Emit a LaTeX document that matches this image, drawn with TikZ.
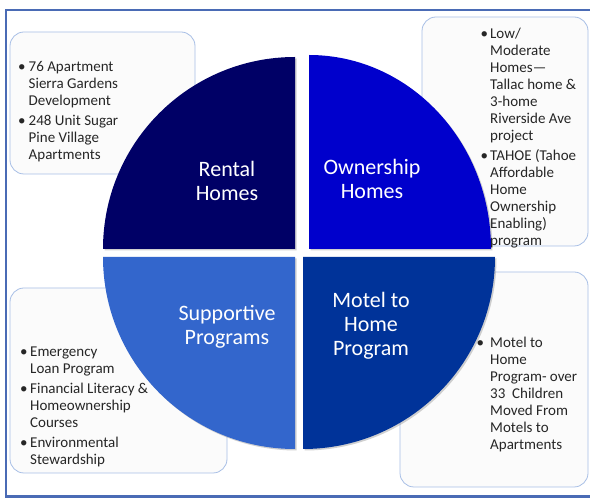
\documentclass[tikz,border=0pt]{standalone}
\usepackage{fontspec}
\setmainfont{Carlito}
\usetikzlibrary{shadows}
\definecolor{frameblue}{HTML}{4A6BB5}
\definecolor{boxedge}{HTML}{A8BFE6}
\definecolor{boxfill}{HTML}{FBFBFB}
\definecolor{rentalc}{HTML}{000066}
\definecolor{ownc}{HTML}{0000CC}
\definecolor{suppc}{HTML}{3366CC}
\definecolor{motelc}{HTML}{003399}
\definecolor{txt}{HTML}{262626}
\newcommand{\bulw}[1]{\makebox[#1][l]{•}}
\tikzset{
  infobox/.style={draw=boxedge, line width=0.8pt, fill=boxfill, rounded corners=14pt},
  quad/.style={draw=none, drop shadow={shadow xshift=1.5pt, shadow yshift=-1.5pt, opacity=0.3, fill=black!60}},
  qlabel/.style={anchor=base, inner sep=0pt, text=white, font=\fontsize{22}{24}\selectfont},
  btext/.style={anchor=base west, inner sep=0pt, text=txt, font=\fontsize{15}{17}\selectfont}
}
\begin{document}
\begin{tikzpicture}[x=1pt,y=1pt]
\useasboundingbox (0,0) rectangle (590,498);
\fill[white] (0,0) rectangle (590,498);
% outer frame
\draw[frameblue, line width=2.5pt] (6,1.5) rectangle (610,488);
% info boxes
\draw[infobox] (10,324) rectangle (195,466);
\draw[infobox] (422,252) rectangle (588,481);
\draw[infobox] (10,25) rectangle (227,210);
\draw[infobox] (400,11) rectangle (588,226);
% quadrants
\path[quad, fill=rentalc] (295,249) -- (103,249) arc[start angle=180, end angle=90, radius=192] -- cycle;
\path[quad, fill=ownc] (309,249) -- (309,443) arc[start angle=90, end angle=0, x radius=182, y radius=194] -- cycle;
\path[quad, fill=suppc] (295,241) -- (103,241) arc[start angle=180, end angle=270, radius=192] -- cycle;
\path[quad, fill=motelc] (303,241) -- (495,241) arc[start angle=0, end angle=-90, radius=192] -- cycle;
% quadrant labels
\node[qlabel] (lrent) at (227,321) {\begin{tabular}[t]{@{}c@{}}Rental\\Homes\end{tabular}};
\node[qlabel] (lown) at (372,323) {\begin{tabular}[t]{@{}c@{}}Ownership\\Homes\end{tabular}};
\node[qlabel] (lsupp) at (227,177) {\begin{tabular}[t]{@{}c@{}}Supportive\\Programs\end{tabular}};
\node[qlabel] (lmotel) at (371,190) {\begin{tabular}[t]{@{}c@{}}Motel to\\Home\\Program\end{tabular}};
% box texts
\node[btext] (t1) at (18,426.5) {\begin{tabular}[t]{@{}l@{}l@{}}
\bulw{10.5pt}&76 Apartment\\&Sierra Gardens\\&Development\\[3pt]
\bulw{10.5pt}&248 Unit Sugar\\&Pine Village\\&Apartments\end{tabular}};
\node[btext] (t2) at (480.5,459) {\begin{tabular}[t]{@{}l@{}l@{}}
\bulw{9.5pt}&Low/\\&Moderate\\&Homes—\\&Tallac home \&\\&3-home\\&Riverside Ave\\&project\\[3pt]
\bulw{9.5pt}&TAHOE (Tahoe\\&Affordable\\&Home\\&Ownership\\&Enabling)\\&program\end{tabular}};
\node[btext] (t3) at (20,141) {\begin{tabular}[t]{@{}l@{}l@{}}
\bulw{10pt}&Emergency\\&Loan Program\\[3pt]
\bulw{10pt}&Financial Literacy \&\\&Homeownership\\&Courses\\[3pt]
\bulw{10pt}&Environmental\\&Stewardship\end{tabular}};
\node[btext] (t4) at (476.5,150) {\begin{tabular}[t]{@{}l@{}l@{}}
\bulw{13.5pt}&Motel to\\&Home\\&Program- over\\&33\ \ Children\\&Moved From\\&Motels to\\&Apartments\end{tabular}};
\end{tikzpicture}
\end{document}
